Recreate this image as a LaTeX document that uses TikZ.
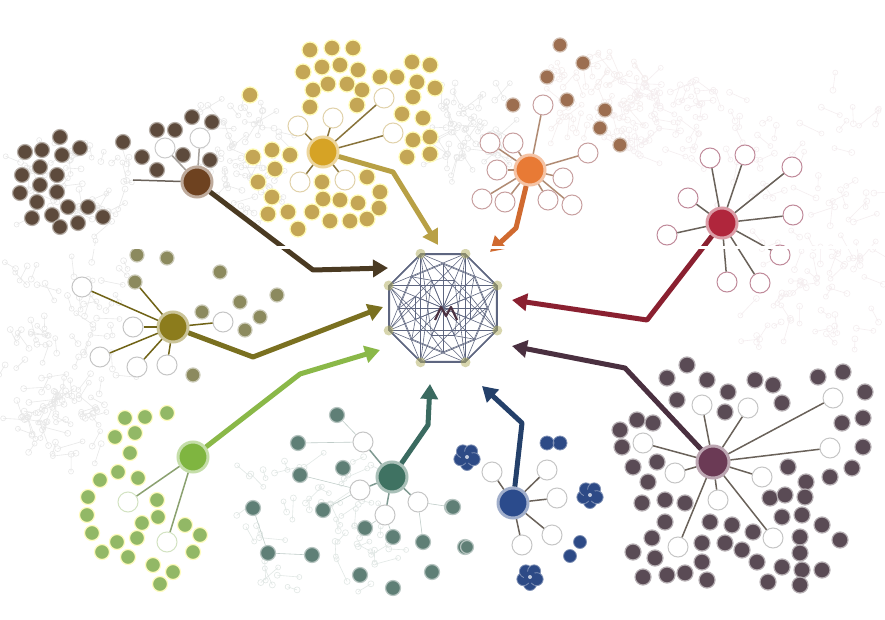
\documentclass[tikz,border=0pt]{standalone}
\usetikzlibrary{arrows.meta,shapes.geometric,calc}
\definecolor{brdot}{HTML}{5D4A3C}
\definecolor{brhub}{HTML}{6E4220}
\definecolor{brarr}{HTML}{4A3A22}
\definecolor{gddot}{HTML}{C4A655}
\definecolor{gdhub}{HTML}{D6A325}
\definecolor{gdarr}{HTML}{B8A045}
\definecolor{ordot}{HTML}{9C6E50}
\definecolor{orhub}{HTML}{E87A35}
\definecolor{orarr}{HTML}{D06A30}
\definecolor{oropn}{HTML}{C8A0A0}
\definecolor{rdhub}{HTML}{B0263C}
\definecolor{rdarr}{HTML}{8A2030}
\definecolor{rdopn}{HTML}{C08A9A}
\definecolor{oldot}{HTML}{8C8A5E}
\definecolor{olhub}{HTML}{8C7C1C}
\definecolor{olarr}{HTML}{7A7020}
\definecolor{grdot}{HTML}{92B866}
\definecolor{grhub}{HTML}{7FB540}
\definecolor{grarr}{HTML}{8AB848}
\definecolor{tldot}{HTML}{5F7F76}
\definecolor{tlhub}{HTML}{3F7262}
\definecolor{tlarr}{HTML}{3A6A60}
\definecolor{blhub}{HTML}{2B4B8C}
\definecolor{blblob}{HTML}{2D4A86}
\definecolor{blarr}{HTML}{24406A}
\definecolor{pudot}{HTML}{5A4B55}
\definecolor{puhub}{HTML}{6B3A55}
\definecolor{puarr}{HTML}{4A3040}
\definecolor{meshc}{HTML}{5E6680}
\definecolor{spk}{HTML}{6A625A}
\definecolor{ghpink}{HTML}{C8A0AA}
\begin{document}
\begin{tikzpicture}[x=1pt,y=-1pt,
  cdot/.style={circle,inner sep=0pt,minimum size=15pt,fill=#1,draw=#1!45!white,line width=1.2pt},
  opn/.style={circle,inner sep=0pt,minimum size=20pt,fill=white,draw=#1,line width=1pt},
  hub/.style={circle,inner sep=0pt,minimum size=30pt,fill=#1,draw=#1!45!white,line width=3pt},
  spoke/.style={draw=#1,line width=1.5pt},
  faint/.style={draw=#1!40!white,line width=0.6pt},
  arr/.style={draw=#1,line width=5pt,line join=round,-{Triangle[length=15pt,width=17pt]}},
  mesh/.style={draw=meshc,line width=0.6pt},
  blob/.style={fill=blblob,draw=blblob!60!white,line width=0.8pt}]
\useasboundingbox (0,0) rectangle (885,620);
\fill[white] (0,0) rectangle (885,620);

% ghost background haze
\pgfmathsetseed{11}
\foreach \cx/\cy/\rx/\ry/\col in {70/320/65/60/gray, 75/185/55/40/gray, 240/160/40/55/gray, 790/160/90/70/ghpink, 820/290/65/55/ghpink, 660/120/40/40/ghpink, 310/520/80/70/tldot, 600/95/45/40/oropn, 60/420/45/35/gray, 470/120/30/40/gray}{
  \foreach \k in {1,...,45}{
    \pgfmathsetmacro\px{\cx+\rx*(2*rnd-1)}
    \pgfmathsetmacro\py{\cy+\ry*(2*rnd-1)}
    \pgfmathsetmacro\a{rnd*360}
    \pgfmathsetmacro\r{8+18*rnd}
    \draw[draw=\col!18,line width=0.6pt] (\px,\py) circle (3) -- ++(\a:\r) circle (2.5);
  }
}

% ---------- cluster 1: dark brown ----------
\node[hub=brhub] (h1) at (197,182) {};
\foreach \p [count=\i] in {(60,137),(25,152),(42,150),(80,148),(62,155),(40,167),(22,175),(57,175),(40,185),(20,193),(57,192),(37,202),(68,207),(88,207),(103,217),(32,218),(52,215),(78,223),(60,227),(123,142),(157,130),(175,130),(192,117),(212,122),(142,157),(183,155),(210,160),(157,170)}
  \node[cdot=brdot] (b\i) at \p {};
\foreach \p [count=\i] in {(165,148),(200,138)}{
  \node[opn=gray!40] (bo\i) at \p {};
  \draw[spoke=spk!60] (h1) -- (bo\i);
}
\coordinate (bl) at (133,180);
\draw[spoke=spk] (h1) -- (bl);

% ---------- cluster 2: gold ----------
\node[hub=gdhub] (h2) at (323,152) {};
\foreach \p [count=\i] in {(310,50),(332,48),(353,48),(303,72),(322,67),(340,65),(358,70),(328,84),(347,84),(313,90),(362,90),(310,107),(357,105),(380,77),(397,77),(412,62),(430,65),(417,82),(435,88),(413,97),(402,114),(423,118),(430,137),(413,140),(407,157),(430,154),(250,95),(253,157),(272,150),(290,155),(275,169),(258,182),(272,197),(268,214),(288,212),(298,229),(312,212),(322,182),(367,177),(380,192),(323,199),(340,200),(358,203),(330,221),(350,221),(367,219),(379,208)}
  \node[cdot=gddot,minimum size=16pt,draw=yellow!30!white] (g\i) at \p {};
\foreach \p [count=\i] in {(384,98),(393,133),(298,126),(333,118),(300,182),(345,180)}{
  \node[opn=gddot!50] (go\i) at \p {};
  \draw[spoke=gddot!70!black] (h2) -- (go\i);
}

% ---------- cluster 3: orange ----------
\node[hub=orhub] (h3) at (530,170) {};
\foreach \p [count=\i] in {(560,45),(583,63),(547,77),(513,105),(567,100),(605,110),(600,128),(620,145)}
  \node[cdot=ordot,minimum size=14pt] (r\i) at \p {};
\foreach \p [count=\i] in {(543,105),(490,143),(513,143),(497,170),(482,199),(505,202),(563,178),(572,205),(588,153),(548,200)}{
  \node[opn=oropn] (ro\i) at \p {};
  \draw[spoke=ordot!80] (h3) -- (ro\i);
}

% ---------- cluster 4: red ----------
\node[hub=rdhub] (h4) at (722,223) {};
\foreach \p [count=\i] in {(710,158),(745,155),(792,167),(688,198),(793,215),(667,235),(780,255),(727,282),(760,283)}{
  \node[opn=rdopn] (do\i) at \p {};
  \draw[spoke=spk] (h4) -- (do\i);
}

% ---------- cluster 5: olive ----------
\node[hub=olhub] (h5) at (173,327) {};
\foreach \p [count=\i] in {(137,255),(167,258),(135,282),(220,272),(240,302),(277,295),(260,317),(245,330),(202,312),(193,375)}
  \node[cdot=oldot,minimum size=14pt] (l\i) at \p {};
\draw[spoke=olhub!80!black] (h5) -- (l3);
\foreach \p [count=\i] in {(82,287),(133,327),(100,357),(137,367),(167,365),(223,322)}{
  \node[opn=gray!45] (lo\i) at \p {};
  \draw[spoke=olhub!80!black] (h5) -- (lo\i);
}

% ---------- cluster 6: light green ----------
\node[hub=grhub] (h6) at (193,457) {};
\foreach \p [count=\i] in {(125,418),(145,417),(167,413),(115,437),(135,433),(130,453),(118,472),(138,478),(100,480),(88,497),(87,515),(157,500),(158,517),(142,523),(92,533),(117,542),(137,538),(185,525),(200,535),(102,552),(128,557),(153,565),(193,552),(173,572),(160,584)}
  \node[cdot=grdot,draw=yellow!25!white] (e\i) at \p {};
\foreach \p [count=\i] in {(128,502),(167,542)}{
  \node[opn=grdot!40] (eo\i) at \p {};
  \draw[spoke=grdot!60!gray] (h6) -- (eo\i);
}

% ---------- cluster 7: teal ----------
\node[hub=tlhub] (h7) at (392,477) {};
\foreach \p [count=\i] in {(337,415),(298,443),(343,468),(300,475),(253,508),(323,510),(452,507),(365,528),(393,537),(423,542),(465,547),(268,553),(312,555),(360,575),(432,572),(393,588),(453,507)}
  \node[cdot=tldot] (t\i) at \p {};
\foreach \p [count=\i] in {(363,442),(360,490),(385,515),(418,502)}{
  \node[opn=gray!45] (to\i) at \p {};
  \draw[spoke=tldot!80] (h7) -- (to\i);
}
\draw[faint=tldot] (t1) -- (to1);
\draw[faint=tldot] (t2) -- (to1);
\draw[faint=tldot] (t4) -- (to2);
\draw[faint=tldot] (t6) -- (to2);
\draw[faint=tldot] (t8) -- (to3);
\draw[faint=tldot] (t9) -- (to3);
\draw[faint=tldot] (t10) -- (to4);
\draw[faint=tldot] (t7) -- (to4);
\draw[faint=tldot] (t5) -- (t12);
\draw[faint=tldot] (t12) -- (t13);

% ---------- cluster 8: blue ----------
\node[hub=blhub] (h8) at (513,503) {};
\foreach \p [count=\i] in {(492,472),(547,470),(557,498),(552,535),(522,545)}{
  \node[opn=gray!45] (uo\i) at \p {};
  \draw[spoke=spk] (h8) -- (uo\i);
}
\node[cdot=tldot,minimum size=13pt] (u1) at (467,547) {};
\foreach \bx/\by in {467/457,590/495,530/577}{
  \foreach \ang in {90,162,234,306,18}
    \fill[blob] (\bx,\by) ++(\ang:7) circle (6.5);
  \fill[blblob] (\bx,\by) circle (6);
  \fill[white!70!blblob] (\bx,\by) circle (2);
}
\fill[blob] (547,443) circle (7) (560,443) circle (7);
\fill[blob] (570,556) circle (6.5) (580,542) circle (6.5);

% ---------- cluster 9: purple ----------
\node[hub=puhub,minimum size=32pt] (h9) at (713,462) {};
\foreach \p [count=\i] in {(687,365),(667,378),(707,380),(755,380),(773,385),(818,377),(843,372),(728,392),(677,400),(782,403),(725,412),(865,392),(637,420),(653,423),(620,430),(622,447),(842,423),(863,418),(863,447),(633,467),(657,462),(648,482),(788,467),(852,468),(830,477),(806,482),(642,503),(665,500),(685,503),(770,498),(785,495),(805,497),(782,517),(802,515),(710,522),(732,525),(753,532),(665,522),(652,538),(822,525),(840,540),(800,537),(633,552),(655,558),(702,543),(725,543),(702,562),(742,550),(757,562),(782,567),(802,570),(822,570),(800,553),(643,577),(667,575),(685,573),(707,580),(768,582),(800,585)}
  \node[cdot=pudot,minimum size=16pt] (p\i) at \p {};
\foreach \p [count=\i] in {(702,405),(748,408),(833,398),(643,443),(830,448),(675,473),(762,477),(718,500),(678,547),(773,538)}{
  \node[opn=gray!45] (po\i) at \p {};
  \draw[spoke=spk] (h9) -- (po\i);
}

% ---------- centre network ----------
\node[draw=meshc,line width=1.4pt,regular polygon,regular polygon sides=8,minimum size=116pt,inner sep=0pt] (c) at (443,308) {};
\foreach \i in {1,...,8}{
  \foreach \j in {1,...,8}{
    \ifnum\i<\j \draw[mesh] (c.corner \i) -- (c.corner \j); \fi
  }
}
\foreach \i in {1,...,8}{
  \coordinate (ci\i) at ($(c.center)+({45*\i+22.5}:30)$);
  \coordinate (cj\i) at ($(c.center)+({45*\i}:44)$);
}
\foreach \i in {1,...,8}{
  \draw[mesh] (ci\i) -- (c.corner \i);
  \draw[mesh] (cj\i) -- (ci\i);
}
\foreach \i/\j in {1/2,2/3,3/4,4/5,5/6,6/7,7/8,8/1,1/5,3/7,2/6,4/8}{
  \draw[mesh] (ci\i) -- (ci\j);
  \draw[mesh] (cj\i) -- (cj\j);
}
\draw[draw=puarr,line width=2.2pt,line join=round] (435,320) -- (441,307) -- (446,316) -- (451,307) -- (457,320);
\foreach \i in {1,...,8}{
  \node[circle,inner sep=0pt,minimum size=10pt,fill=gddot!60!grdot,opacity=0.5] (cv\i) at (c.corner \i) {};
}

% ---------- arrows ----------
\coordinate (k1) at (313,270); \coordinate (a1) at (388,268);
\coordinate (k2) at (393,172); \coordinate (a2) at (438,245);
\coordinate (k3) at (516,228); \coordinate (a3) at (490,252);
\coordinate (k4) at (647,320); \coordinate (a4) at (512,300);
\coordinate (k5) at (253,357); \coordinate (a5) at (383,307);
\coordinate (k6) at (300,374); \coordinate (a6) at (380,350);
\coordinate (k7) at (428,425); \coordinate (a7) at (430,384);
\coordinate (k8) at (522,423); \coordinate (a8) at (482,386);
\coordinate (k9) at (625,368); \coordinate (a9) at (512,346);
\draw[arr=brarr] (h1) -- (k1) -- (a1);
\draw[arr=gdarr] (h2) -- (k2) -- (a2);
\draw[arr=orarr] (h3) -- (k3) -- (a3);
\draw[arr=rdarr] (h4) -- (k4) -- (a4);
\draw[arr=olarr] (h5) -- (k5) -- (a5);
\draw[arr=grarr] (h6) -- (k6) -- (a6);
\draw[arr=tlarr] (h7) -- (k7) -- (a7);
\draw[arr=blarr] (h8) -- (k8) -- (a8);
\draw[arr=puarr] (h9) -- (k9) -- (a9);

% seam
\draw[white,line width=3pt] (0,247) -- (885,247);
\end{tikzpicture}
\end{document}
